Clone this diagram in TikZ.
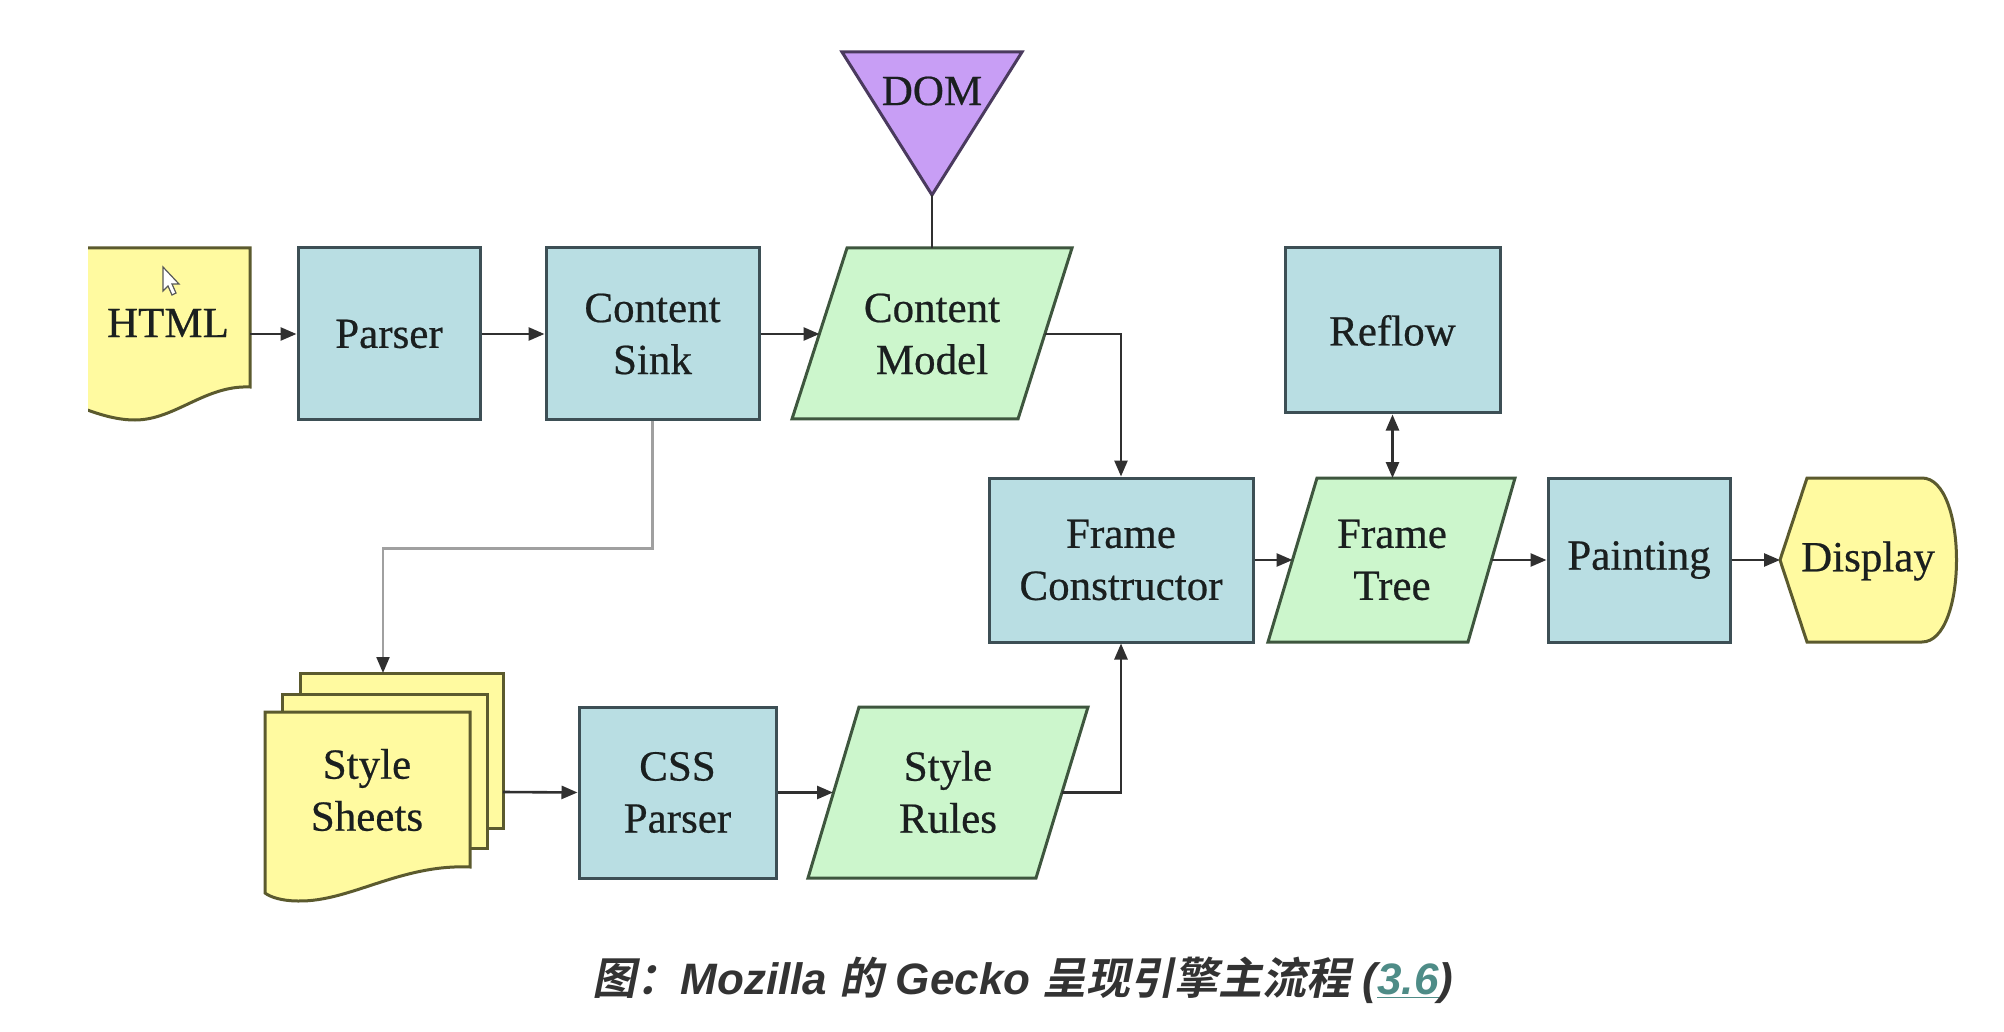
\documentclass[tikz,border=0pt]{standalone}
\usepackage{fontspec}
\setmainfont[FakeBold=0.5]{Liberation Serif}
\newfontfamily\capfont{Liberation Sans}
\newfontfamily\cjkfont[FakeSlant=0.2]{Noto Sans CJK SC Bold}
\usetikzlibrary{arrows.meta,calc}
\definecolor{bluefill}{HTML}{B9DEE3}
\definecolor{blueline}{HTML}{3D4F55}
\definecolor{greenfill}{HTML}{CCF6CC}
\definecolor{greenline}{HTML}{3E563E}
\definecolor{yellowfill}{HTML}{FFFAA0}
\definecolor{yellowline}{HTML}{5B5A2E}
\definecolor{purplefill}{HTML}{C89EF5}
\definecolor{purpleline}{HTML}{4A3A5E}
\definecolor{conn}{HTML}{303030}
\definecolor{grayconn}{HTML}{A0A0A0}
\definecolor{captext}{HTML}{333333}
\definecolor{linkteal}{HTML}{4E8C87}
\definecolor{lbltext}{HTML}{1A1F1F}
\newcommand\zhtxt[1]{{\cjkfont #1}}
\newcommand\latxt[1]{{\capfont\bfseries\itshape #1}}
\begin{document}
\begin{tikzpicture}[x=0.5pt,y=-0.5pt,
  lbl/.style={align=center,text=lbltext,font=\fontsize{21.5}{26}\selectfont,inner sep=0pt},
  bluebox/.style={draw=blueline,fill=bluefill,line width=1.5pt,align=center,text=lbltext,
    font=\fontsize{21.5}{26}\selectfont,inner sep=0pt},
  greenshape/.style={draw=greenline,fill=greenfill,line width=1.5pt,line join=miter},
  yellowshape/.style={draw=yellowline,fill=yellowfill,line width=1.5pt},
  purpleshape/.style={draw=purpleline,fill=purplefill,line width=1.5pt},
  arr/.style={draw=conn,line width=1.3pt,-{Triangle[length=8pt,width=6.5pt]}},
  dblarr/.style={draw=conn,line width=1.3pt,{Triangle[length=8pt,width=6.5pt]}-{Triangle[length=8pt,width=6.5pt]}},
  plain/.style={draw=conn,line width=1.3pt},
  grayarr/.style={draw=grayconn,line width=1.1pt,-{Triangle[length=8pt,width=6.5pt,fill=conn,color=conn]}}]
\useasboundingbox (0,0) rectangle (2004,1032);
\fill[white] (0,0) rectangle (2004,1032);

% HTML document (cut at left edge)
\begin{scope}
\clip (88,200) rectangle (320,460);
\path[yellowshape] (40,248) -- (250,248) -- (250,387)
  .. controls (205,385) and (175,420) .. (135,420)
  .. controls (100,420) and (70,400) .. (40,395) -- cycle;
\end{scope}
\path[draw=gray!70!black,fill=white,line width=0.6pt] (163,267) -- (163,291) -- (168,286) -- (172,295) -- (176,293) -- (172,284) -- (179,284) -- cycle;
\node[lbl] (html) at (168,323) {HTML};
\coordinate (html-e) at (250,334);

% top row boxes
\node[bluebox,minimum width=91pt,minimum height=86pt] (parser) at (389,334) {Parser};
\node[bluebox,minimum width=106.5pt,minimum height=86pt] (sink) at (652.5,334) {Content\\Sink};

% Content Model
\path[greenshape] (792,419) -- (847,248) -- (1072,248) -- (1018,419) -- cycle;
\node[lbl] (cm) at (932,334) {Content\\Model};
\coordinate (cm-w) at (819.5,334);
\coordinate (cm-e) at (1045,334);
\coordinate (cm-n) at (932,248);

% DOM
\path[purpleshape] (842,52) -- (1022,52) -- (932,195) -- cycle;
\node[lbl] (dom) at (932,91) {DOM};
\coordinate (dom-s) at (932,195);

% Reflow
\node[bluebox,minimum width=107.5pt,minimum height=82.5pt] (reflow) at (1392.5,330.5) {Reflow};

% middle row
\node[bluebox,minimum width=132pt,minimum height=82pt] (fc) at (1121,560) {Frame\\Constructor};
\path[greenshape] (1268,642) -- (1317,478) -- (1515,478) -- (1468,642) -- cycle;
\node[lbl] (ft) at (1392,560) {Frame\\Tree};
\coordinate (ft-w) at (1292.5,560);
\coordinate (ft-e) at (1491.5,560);
\coordinate (ft-n) at (1392.5,478);
\node[bluebox,minimum width=91pt,minimum height=82pt] (paint) at (1639,560) {Painting};
\path[yellowshape] (1807,478) -- (1922,478) .. controls (1968,478) and (1968,642) .. (1922,642)
  -- (1807,642) -- (1780,560) -- cycle;
\node[lbl] (disp) at (1868,561) {Display};
\coordinate (disp-w) at (1780,560);

% Style sheets
\path[yellowshape] (300,673) rectangle (503,828);
\path[yellowshape] (282,694) rectangle (487,848);
\path[yellowshape] (265,712) -- (470,712) -- (470,867)
  .. controls (400,864) and (350,902) .. (298,901)
  .. controls (282,901) and (270,897) .. (265,893) -- cycle;
\node[lbl] (ss) at (367,790) {Style\\Sheets};
\coordinate (ss-n) at (383,673);
\coordinate (ss-e) at (503,792);

\node[bluebox,minimum width=98.5pt,minimum height=85.5pt] (css) at (677.5,792.5) {CSS\\Parser};
\path[greenshape] (808,878) -- (859,707) -- (1088,707) -- (1036,878) -- cycle;
\node[lbl] (sr) at (948,792) {Style\\Rules};
\coordinate (sr-w) at (833,792.5);
\coordinate (sr-e) at (1062,792.5);

% connectors
\draw[arr] (html-e) -- (parser.west);
\draw[arr] (parser.east) -- (sink.west);
\draw[arr] (sink.east) -- (cm-w);
\draw[plain] (dom-s) -- (cm-n);
\draw[arr] (cm-e) -| (fc.north);
\draw[arr] (sr-e) -| (fc.south);
\draw[arr] (fc.east) -- (ft-w);
\draw[arr] (ft-e) -- (paint.west);
\draw[arr] (paint.east) -- (disp-w);
\draw[dblarr] (reflow.south) -- (ft-n);
\draw[grayarr] (sink.south) -- ++(0,127) -| (ss-n);
\draw[arr] (ss-e) -- (css.west);
\draw[arr] (css.east) -- (sr-w);

% caption
\node[text=captext,inner sep=0pt,font=\fontsize{22}{26}\selectfont] (caption) at (1023,980)
  {\zhtxt{图：}\latxt{Mozilla }\zhtxt{的}\latxt{ Gecko }\zhtxt{呈现引擎主流程}\latxt{ (}\textcolor{linkteal}{\underline{\latxt{3.6}}}\latxt{)}};
\end{tikzpicture}
\end{document}
